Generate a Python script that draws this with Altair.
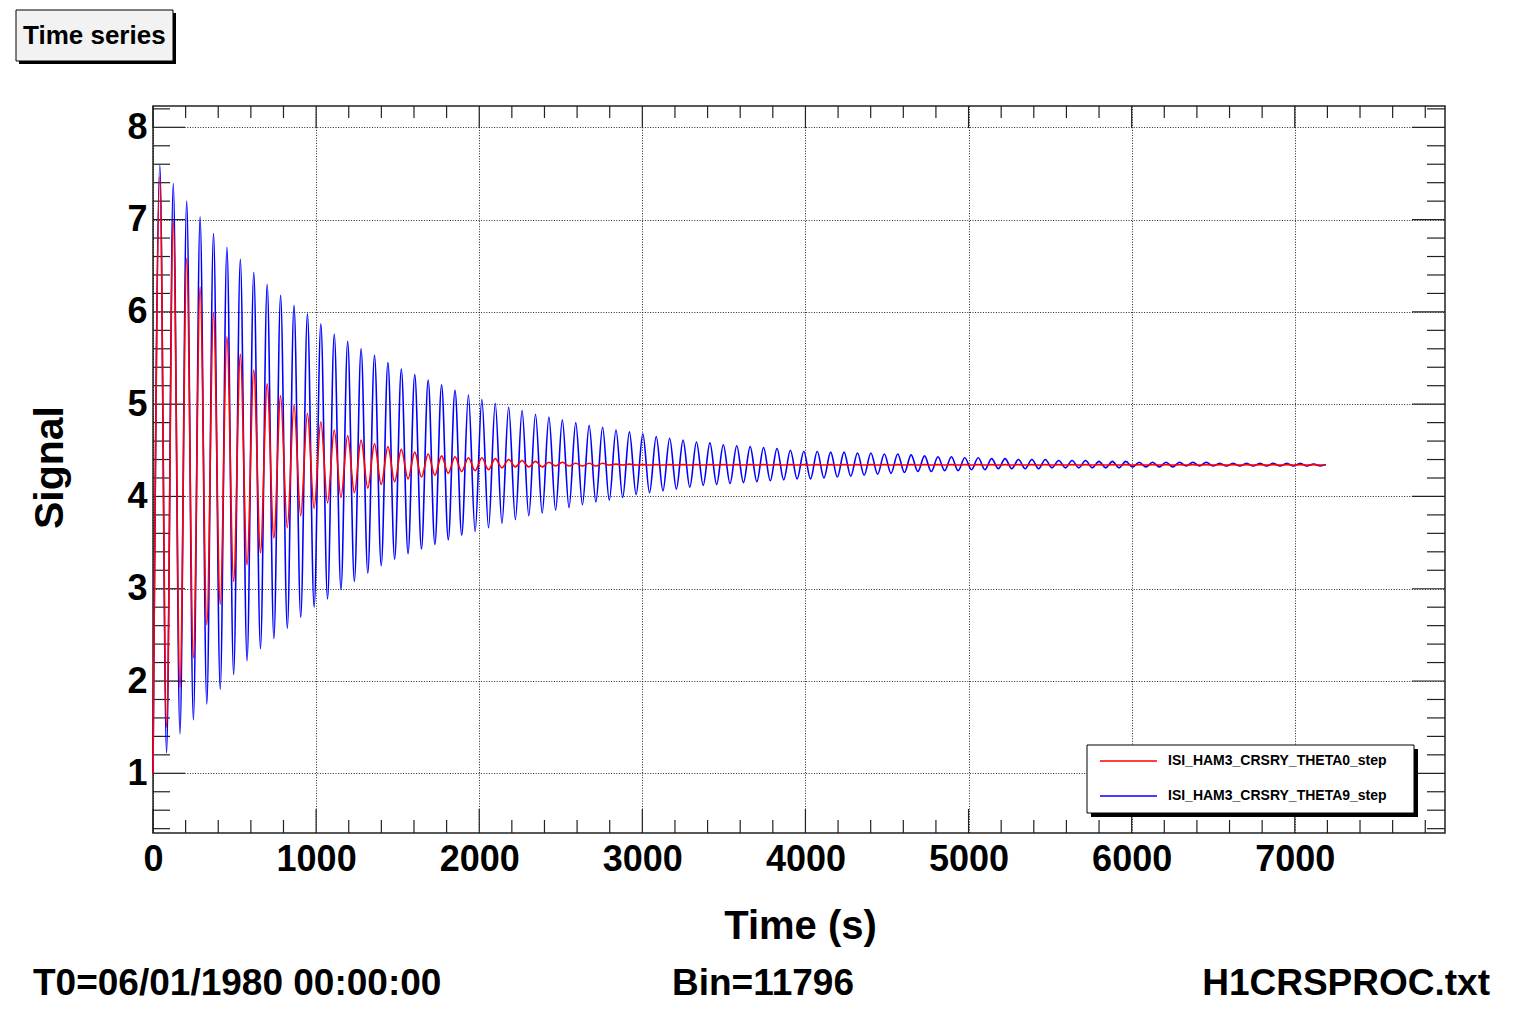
import altair as alt
import pandas as pd

# ---------------- data ----------------
SERIES_NAMES = ["ISI_HAM3_CRSRY_THETA0_step", "ISI_HAM3_CRSRY_THETA9_step"]
SERIES_COLORS = ["#ff0000", "#0000ff"]

# oscillation timing (seconds)
PERIOD = 82.25
FIRST_PEAK_T = 42.0
START_T = 0.0
END_T = 7190.0

# THETA9 (blue): value at each successive maximum / minimum
blue_start = 1.0
blue_end = 4.345
blue_peaks = [7.59, 7.39, 7.20, 7.03, 6.85, 6.70, 6.57, 6.43, 6.30, 6.18, 6.07, 5.98, 5.87,
              5.76, 5.68, 5.60, 5.53, 5.45, 5.38, 5.32, 5.26, 5.21, 5.15, 5.10,
              5.05, 5.01, 4.97, 4.93, 4.89, 4.86, 4.83, 4.80, 4.77, 4.75, 4.72, 4.70, 4.68,
              4.65, 4.63, 4.61, 4.59, 4.58, 4.56, 4.55, 4.54, 4.53, 4.52, 4.50, 4.49,
              4.49, 4.48, 4.48, 4.47, 4.47, 4.46, 4.46, 4.45, 4.44, 4.43, 4.43, 4.42, 4.42,
              4.41, 4.41, 4.40, 4.40, 4.40, 4.39, 4.39, 4.39, 4.38, 4.38, 4.38, 4.37, 4.37,
              4.37, 4.37, 4.37, 4.37, 4.36, 4.36, 4.36, 4.36, 4.36, 4.36, 4.36, 4.35]
blue_troughs = [1.22, 1.43, 1.58, 1.75, 1.91, 2.07, 2.22, 2.35, 2.46, 2.57, 2.69, 2.80,
                2.89, 2.99, 3.08, 3.17, 3.25, 3.32, 3.38, 3.43, 3.48, 3.53, 3.58, 3.62,
                3.66, 3.71, 3.75, 3.79, 3.82, 3.85, 3.88, 3.91, 3.94, 3.96, 3.99, 4.02, 4.04,
                4.06, 4.08, 4.10, 4.12, 4.13, 4.14, 4.15, 4.16, 4.17, 4.18, 4.19, 4.19,
                4.20, 4.21, 4.22, 4.23, 4.24, 4.25, 4.26, 4.27, 4.27, 4.28, 4.28, 4.29, 4.29,
                4.30, 4.30, 4.30, 4.30, 4.31, 4.31, 4.31, 4.31, 4.31, 4.31, 4.32, 4.32, 4.32,
                4.32, 4.33, 4.33, 4.33, 4.33, 4.33, 4.33, 4.33, 4.33, 4.33, 4.33, 4.33]

# THETA0 (red)
red_start = 1.0
red_end = 4.34
red_peaks = [7.46, 6.99, 6.58, 6.27, 5.99, 5.73, 5.54, 5.37, 5.22, 5.09, 4.99, 4.90, 4.81,
             4.72, 4.66, 4.61, 4.57, 4.54, 4.51, 4.48, 4.46, 4.44, 4.43, 4.42, 4.42,
             4.41, 4.40, 4.39, 4.38, 4.37, 4.37, 4.36, 4.36, 4.36, 4.35, 4.35] + [4.345] * 51
red_troughs = [1.50, 1.93, 2.25, 2.61, 2.83, 3.08, 3.26, 3.39, 3.55, 3.66, 3.79, 3.87,
               3.93, 3.99, 4.04, 4.09, 4.13, 4.16, 4.19, 4.21, 4.23, 4.25, 4.27, 4.28,
               4.29, 4.31, 4.32, 4.32, 4.32, 4.33, 4.33, 4.33, 4.33, 4.34, 4.34, 4.34] + [4.34] * 51

# axis ranges and tick marks
X_DOMAIN = [0, 7921]
Y_DOMAIN = [0.353, 8.231]
x_major = [0, 1000, 2000, 3000, 4000, 5000, 6000, 7000]
x_minor = [v for v in range(200, 7900, 200) if v % 1000 != 0]
y_major = [1, 2, 3, 4, 5, 6, 7, 8]
y_minor = [round(0.4 + 0.2 * i, 1) for i in range(40)]
y_minor = [v for v in y_minor if abs(v - round(v)) > 1e-9 and v <= 8.22]

TITLE_TEXT = "Time series"
X_TITLE = "Time (s)"
Y_TITLE = "Signal"
FOOT_LEFT = "T0=06/01/1980 00:00:00"
FOOT_MID = "Bin=11796"
FOOT_RIGHT = "H1CRSPROC.txt"

# ---------------- build tables ----------------
def series_table(start, peaks, troughs, end):
    ts, vs = [START_T], [start]
    for k, (p, q) in enumerate(zip(peaks, troughs)):
        ts.append(FIRST_PEAK_T + k * PERIOD)
        vs.append(p)
        ts.append(FIRST_PEAK_T + PERIOD / 2 + k * PERIOD)
        vs.append(q)
    ts.append(END_T)
    vs.append(end)
    return pd.DataFrame({"t": ts, "v": vs})

blue_df = series_table(blue_start, blue_peaks, blue_troughs, blue_end)
red_df = series_table(red_start, red_peaks, red_troughs, red_end)

W, H = 1292, 727
F = "Liberation Sans"

xs = alt.Scale(domain=X_DOMAIN, nice=False, zero=False)
ys = alt.Scale(domain=Y_DOMAIN, nice=False, zero=False)

GRID = dict(grid=True, gridColor="black", gridDash=[1, 1.6], gridWidth=1, gridOpacity=0.85)

xaxis = alt.Axis(values=x_major, format="d", title=X_TITLE,
                 titleFont=F, titleFontSize=40, titleFontWeight="bold", titleColor="black",
                 titleX=647, titleY=105, titleAlign="center", titleBaseline="alphabetic",
                 labelFont=F, labelFontSize=36, labelFontWeight="bold", labelColor="black",
                 labelPadding=37, labelBaseline="alphabetic", labelFlush=False, labelOverlap=False,
                 ticks=False, tickSize=0, domain=False, **GRID)
yaxis = alt.Axis(values=y_major, format="d", title=Y_TITLE,
                 titleFont=F, titleFontSize=41, titleFontWeight="bold", titleColor="black",
                 titleX=-91, titleY=361, titleAngle=270, titleAlign="center",
                 titleBaseline="alphabetic",
                 labelFont=F, labelFontSize=36, labelFontWeight="bold", labelColor="black",
                 labelPadding=6, labelAlign="right", labelBaseline="middle",
                 labelFlush=False, labelOverlap=False,
                 ticks=False, tickSize=0, domain=False, **GRID)

X = alt.X("t:Q", scale=xs, axis=xaxis)
Y = alt.Y("v:Q", scale=ys, axis=yaxis)

TICK_COLOR = "#222222"

def xticks(vals, length_bottom, length_top):
    d = pd.DataFrame({"t": vals})
    b = alt.Chart(d).mark_rule(color=TICK_COLOR, strokeWidth=1.2).encode(
        x=X, y=alt.value(H), y2=alt.value(H - length_bottom))
    t = alt.Chart(d).mark_rule(color=TICK_COLOR, strokeWidth=1.2).encode(
        x=X, y=alt.value(0), y2=alt.value(length_top))
    return [b, t]

def yticks(vals, length_left, length_right):
    d = pd.DataFrame({"v": vals})
    l = alt.Chart(d).mark_rule(color=TICK_COLOR, strokeWidth=1.2).encode(
        y=Y, x=alt.value(0), x2=alt.value(length_left))
    r = alt.Chart(d).mark_rule(color=TICK_COLOR, strokeWidth=1.2).encode(
        y=Y, x=alt.value(W), x2=alt.value(W - length_right))
    return [l, r]

blue_line = alt.Chart(blue_df).mark_line(
    interpolate="monotone", color=SERIES_COLORS[1], strokeWidth=1.6).encode(x=X, y=Y)
red_line = alt.Chart(red_df).mark_line(
    interpolate="monotone", color=SERIES_COLORS[0], strokeWidth=1.6).encode(x=X, y=Y)

one = pd.DataFrame({"k": [0]})

def rect(x1, x2, y1, y2, fill, stroke=None):
    kw = dict(fill=fill)
    if stroke:
        kw.update(stroke=stroke, strokeWidth=1)
    return alt.Chart(one).mark_rect(**kw).encode(
        x=alt.value(x1), x2=alt.value(x2), y=alt.value(y1), y2=alt.value(y2))

def text(label, x, y, size, align="left", baseline="alphabetic"):
    d = pd.DataFrame({"label": [label]})
    return alt.Chart(d).mark_text(font=F, fontSize=size, fontWeight="bold", color="black",
                                  align=align, baseline=baseline).encode(
        x=alt.value(x), y=alt.value(y), text="label:N")

# title box (top-left)
title_shadow = rect(-134, 23, -93, -42, "black")
title_box = rect(-137, 20, -96, -45, "#f2f2f2", "black")
title_text = text(TITLE_TEXT, -130, -62, 26)

# legend box
leg_shadow = rect(938, 1265, 643, 711, "black")
leg_box = rect(934, 1261, 639, 707, "white", "black")
leg_rows = []
for name, color, yy in zip(SERIES_NAMES, SERIES_COLORS, [655, 690]):
    leg_rows.append(alt.Chart(one).mark_rule(color=color, strokeWidth=1.4).encode(
        x=alt.value(947), x2=alt.value(1004), y=alt.value(yy)))
    leg_rows.append(text(name, 1015, yy, 14, baseline="middle"))

FOOT_Y = 889
foot = [text(FOOT_LEFT, -120, FOOT_Y, 37),
        text(FOOT_MID, 610, FOOT_Y, 37, align="center"),
        text(FOOT_RIGHT, 1337, FOOT_Y, 37, align="right")]

layers = (xticks(x_major, 24, 22) + xticks(x_minor, 13, 12)
          + yticks(y_major, 32, 33) + yticks(y_minor, 17, 18)
          + [blue_line, red_line, title_shadow, title_box, title_text,
             leg_shadow, leg_box] + leg_rows + foot)

chart = alt.layer(*layers).properties(
    width=W, height=H,
    padding={"left": 145, "top": 98, "right": 60, "bottom": 171},
    autosize=alt.AutoSizeParams(type="none"),
    background="white",
).configure_view(stroke="#222222", strokeWidth=1.5)

chart.save("out.html", embed_options={"renderer": "svg", "actions": False})
